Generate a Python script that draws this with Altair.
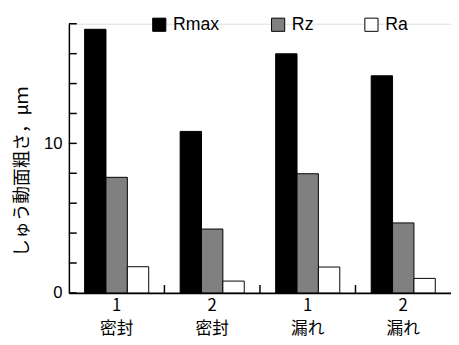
import altair as alt
import pandas as pd

groups = ["1\n密封", "2\n密封", "1\n漏れ", "2\n漏れ"]
series = ["Rmax", "Rz", "Ra"]
rmax = [17.63, 10.8, 15.99, 14.52]
rz = [7.73, 4.27, 7.97, 4.68]
ra = [1.75, 0.79, 1.73, 0.97]
y_ticks = [0, 2, 4, 6, 8, 10, 12, 14, 16, 18]
y_labels = [0, 10]
colors = ["#000000", "#808080", "#ffffff"]

rows = []
for i, g in enumerate(groups):
    for s, vals in zip(series, [rmax, rz, ra]):
        rows.append({"group": g, "series": s, "value": vals[i]})
df = pd.DataFrame(rows)
tick_df = pd.DataFrame({"v": y_ticks})
grp_df = pd.DataFrame({"group": groups[1:]})

xscale = alt.Scale(domain=groups, paddingInner=0, paddingOuter=0)
yscale = alt.Scale(domain=[0, 18], nice=False)

bars = alt.Chart(df).mark_bar(stroke="black", strokeWidth=1).encode(
    x=alt.X("group:N", scale=xscale, sort=groups,
            axis=alt.Axis(title=None, labelAngle=0, ticks=False,
                          labelExpr="split(datum.label, '\\n')",
                          labelFont="Noto Sans CJK JP", labelFontSize=17,
                          labelColor="black", labelPadding=5,
                          labelLineHeight=23, domainColor="black",
                          domainWidth=2)),
    xOffset=alt.XOffset("series:N", sort=series,
                        scale=alt.Scale(domain=series, paddingInner=0, paddingOuter=0.735)),
    y=alt.Y("value:Q", scale=yscale,
            axis=alt.Axis(title="しゅう動面粗さ，μｍ", values=y_labels, ticks=False,
                          grid=False, labelFont="Liberation Sans", labelFontSize=17,
                          labelColor="black", labelPadding=7,
                          domainColor="black", domainWidth=1.5,
                          titleFont="Noto Sans CJK JP", titleFontSize=18,
                          titleFontWeight="normal", titleColor="black",
                          titleX=-47, titleY=150, titleAlign="center",
                          titleBaseline="middle", titleAngle=-90)),
    fill=alt.Fill("series:N", sort=series,
                  scale=alt.Scale(domain=series, range=colors),
                  legend=alt.Legend(title=None, orient="none", direction="horizontal",
                                    legendX=83, legendY=-8, symbolType="square",
                                    symbolSize=180, symbolStrokeColor="black",
                                    symbolStrokeWidth=1, labelFont="Liberation Sans",
                                    labelFontSize=18, labelColor="black",
                                    labelOffset=5, columnPadding=50, padding=0)),
)

yt = alt.Chart(tick_df).mark_rule(color="black", strokeWidth=1.5).encode(
    y=alt.Y("v:Q", scale=yscale),
    x=alt.value(0),
    x2=alt.value(8),
)

xt = alt.Chart(grp_df).mark_rule(color="black", strokeWidth=1.5).encode(
    x=alt.X("group:N", scale=xscale, sort=groups, bandPosition=0),
    y=alt.value(274),
    y2=alt.value(266),
)

chart = alt.layer(bars, yt, xt).properties(
    width=389, height=274,
    autosize=alt.AutoSizeParams(type="none"),
    padding={"left": 62, "top": 13, "right": 0, "bottom": 50},
).configure_view(stroke=None).configure(background="white")

chart.save("out.html", embed_options={"renderer": "svg", "actions": False})
